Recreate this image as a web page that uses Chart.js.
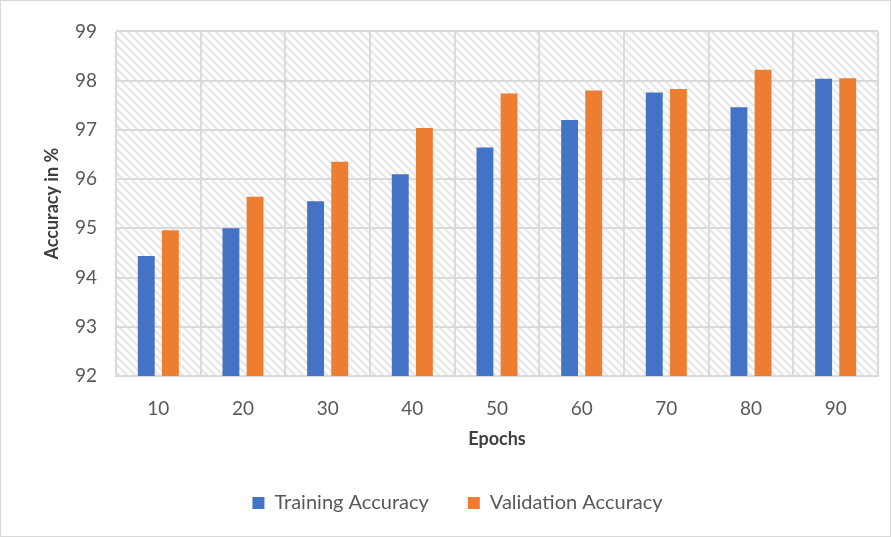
<!DOCTYPE html>
<html>
<head>
<meta charset="utf-8">
<script src="https://cdn.jsdelivr.net/npm/chart.js@4"></script>
<style>
  html, body { margin: 0; padding: 0; background: #fff; }
  #wrap { position: relative; width: 889px; height: 535px; border: 1px solid #d9d9d9; }
</style>
</head>
<body>
<div id="wrap"><canvas id="accChart" width="889" height="535"></canvas></div>
<script>
const epochs = ['10', '20', '30', '40', '50', '60', '70', '80', '90'];
const trainingAcc = [94.44, 95.0, 95.55, 96.1, 96.64, 97.2, 97.76, 97.46, 98.04];
const validationAcc = [94.96, 95.64, 96.35, 97.04, 97.74, 97.8, 97.83, 98.22, 98.05];

function hatchPattern(ctx) {
  const c = document.createElement('canvas');
  c.width = 8; c.height = 8;
  const p = c.getContext('2d');
  p.fillStyle = '#ffffff';
  p.fillRect(0, 0, 8, 8);
  p.strokeStyle = '#e8e8e8';
  p.lineWidth = 2.5;
  p.beginPath();
  p.moveTo(-2, -2); p.lineTo(10, 10);
  p.moveTo(-10, -2); p.lineTo(2, 10);
  p.moveTo(6, -2); p.lineTo(18, 10);
  p.stroke();
  return ctx.createPattern(c, 'repeat');
}

const hatchBg = {
  id: 'hatchBg',
  beforeDraw(chart) {
    const { ctx, chartArea: a } = chart;
    ctx.save();
    ctx.fillStyle = hatchPattern(ctx);
    ctx.fillRect(a.left, a.top, a.right - a.left, a.bottom - a.top);
    ctx.restore();
  }
};

const font = "Lato, 'Open Sans', sans-serif";

new Chart(document.getElementById('accChart'), {
  type: 'bar',
  data: {
    labels: epochs,
    datasets: [
      { label: 'Training Accuracy', data: trainingAcc, backgroundColor: '#4472C4',
        categoryPercentage: 0.57, barPercentage: 0.7 },
      { label: 'Validation Accuracy', data: validationAcc, backgroundColor: '#ED7D31',
        categoryPercentage: 0.57, barPercentage: 0.7 }
    ]
  },
  options: {
    responsive: false,
    animation: false,
    layout: { padding: { top: 26, right: 12, left: 36, bottom: 13 } },
    plugins: {
      legend: {
        position: 'bottom',
        labels: { font: { family: font, size: 20 }, color: '#595959', boxWidth: 12, boxHeight: 12, padding: 39 }
      },
      tooltip: { enabled: false }
    },
    scales: {
      x: {
        afterFit(scale) { scale.height = 78; },
        grid: { color: '#d9d9d9', lineWidth: 2, drawTicks: false },
        border: { color: '#d9d9d9', width: 2 },
        ticks: { font: { family: font, size: 19 }, color: '#595959', padding: 21 },
        title: { display: true, text: 'Epochs', font: { family: font, size: 18, weight: 'bold' }, color: '#404040', padding: { top: 4, bottom: 4 } }
      },
      y: {
        min: 92, max: 99,
        afterFit(scale) { scale.width = 79; },
        grid: { color: '#d9d9d9', lineWidth: 2, drawTicks: false },
        border: { display: false },
        ticks: { stepSize: 1, font: { family: font, size: 19 }, color: '#595959', padding: 19 },
        title: { display: true, text: 'Accuracy in %', font: { family: font, size: 18, weight: 'bold' }, color: '#404040', padding: { top: 4, bottom: 0 } }
      }
    }
  },
  plugins: [hatchBg]
});
</script>
</body>
</html>
